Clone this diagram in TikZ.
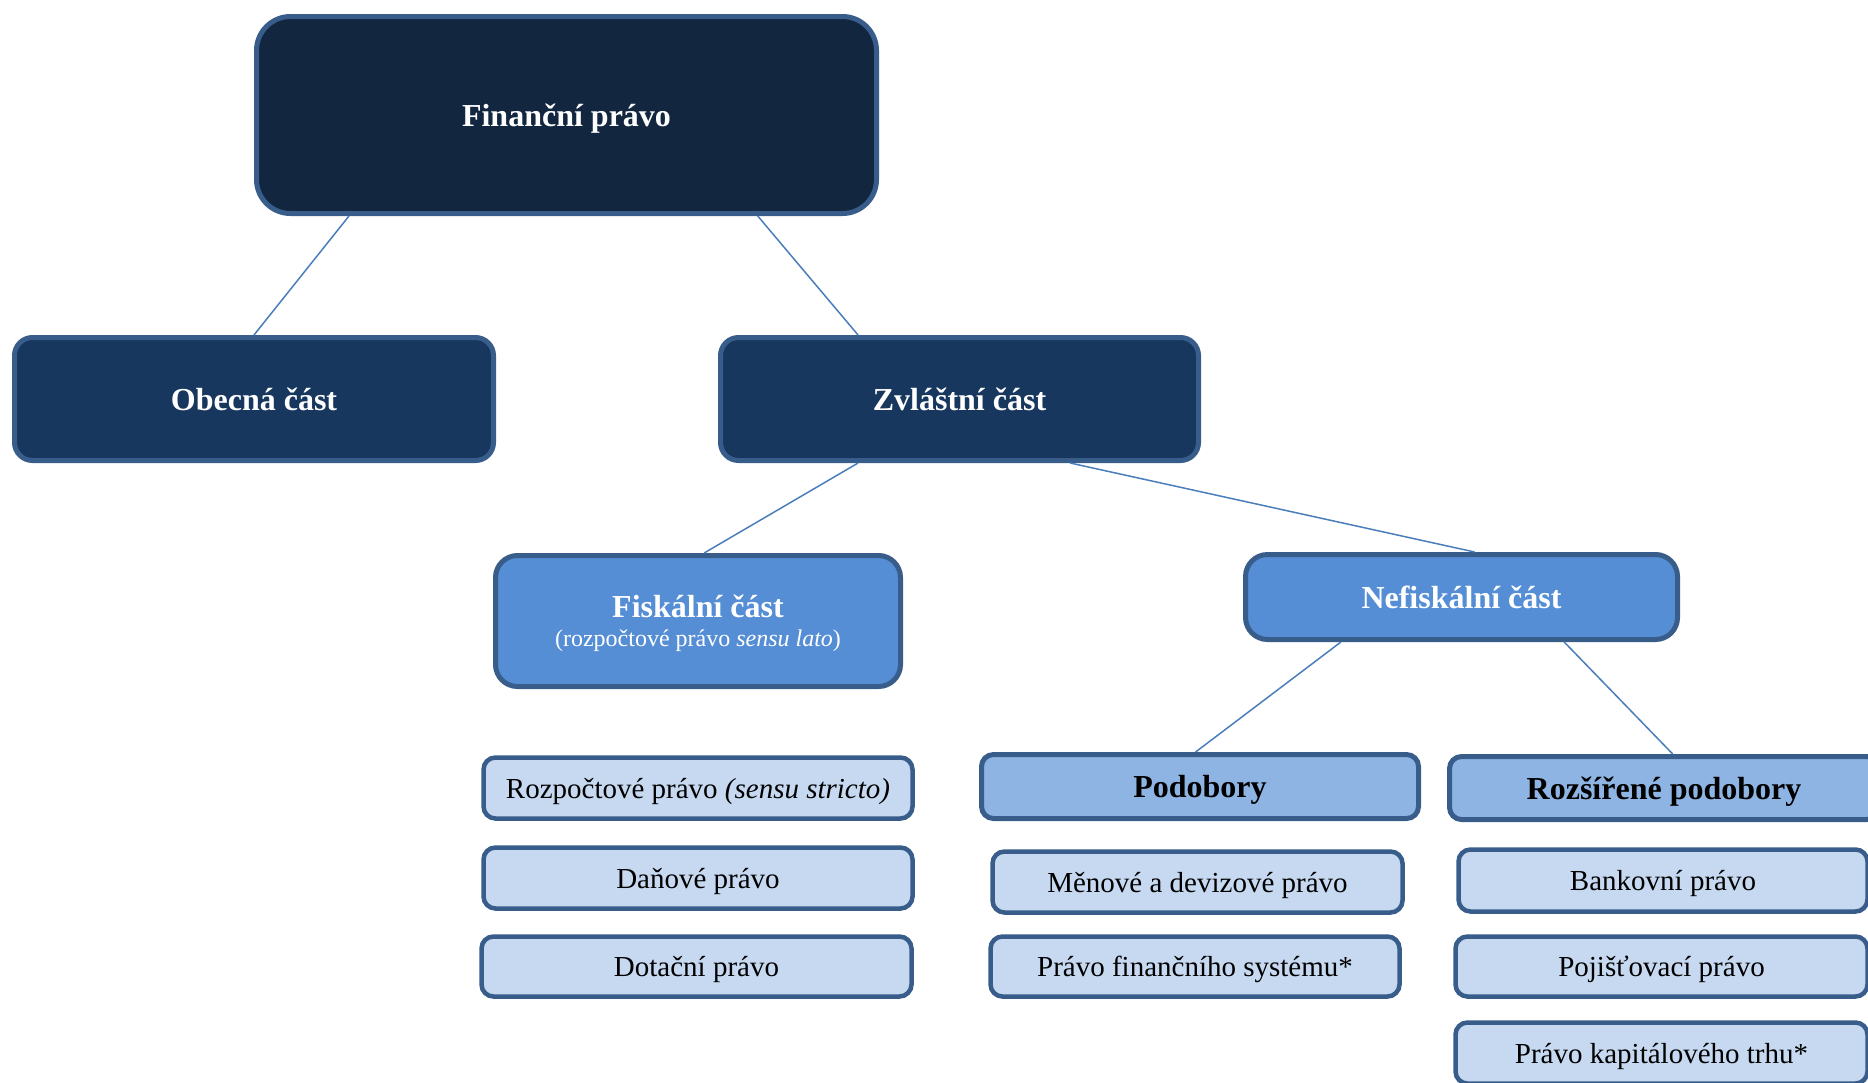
\documentclass[tikz,border=0pt]{standalone}
\usepackage{fontspec}
\setmainfont{Liberation Serif}
\usetikzlibrary{calc}
\definecolor{boxline}{HTML}{385D8A}
\definecolor{linkline}{HTML}{4A7EBB}
\definecolor{rootfill}{HTML}{12263F}
\definecolor{partfill}{HTML}{17375E}
\definecolor{branchfill}{HTML}{558ED5}
\definecolor{subfill}{HTML}{8EB4E3}
\definecolor{leaffill}{HTML}{C6D9F1}
\tikzset{
  box/.style={draw=boxline, line width=5pt, inner sep=0pt, align=center, text depth=0pt},
  rootbox/.style={box, fill=rootfill, rounded corners=34pt, text=white,
    font=\fontsize{32}{38}\selectfont\bfseries},
  partbox/.style={box, fill=partfill, rounded corners=18pt, text=white,
    font=\fontsize{32}{38}\selectfont\bfseries},
  branchbox/.style={box, fill=branchfill, rounded corners=22pt, text=white,
    font=\fontsize{32}{38}\selectfont\bfseries},
  subbox/.style={box, fill=subfill, rounded corners=12pt,
    font=\fontsize{32}{38}\selectfont\bfseries},
  leafbox/.style={box, line width=4.5pt, fill=leaffill, rounded corners=12pt,
    font=\fontsize{29}{34}\selectfont},
  link/.style={draw=linkline, line width=1.5pt}
}
\begin{document}
\begin{tikzpicture}[x=1pt, y=-1pt]
  \clip (0,0) rectangle (1868,1082);
  % main tree
  \node[rootbox, minimum width=620, minimum height=197] (fin) at (566.5,115) {Finanční právo};
  \node[partbox, minimum width=479, minimum height=123] (obec) at (254,399) {Obecná část};
  \node[partbox, minimum width=478, minimum height=123] (zvl) at (959.5,399) {Zvláštní část};
  \node[branchbox, minimum width=405, minimum height=131] (fisk) at (698,621)
    {Fiskální část\\[-9pt]{\fontsize{24}{28}\selectfont\mdseries (rozpočtové právo \textit{sensu lato})}};
  \node[branchbox, minimum width=432, minimum height=85] (nefisk) at (1461.5,597) {Nefiskální část};
  \node[subbox, minimum width=437, minimum height=64] (podob) at (1200,786.5) {Podobory};
  \node[subbox, minimum width=429, minimum height=63] (rozs) at (1664,788) {Rozšířené podobory};
  % fiskalni cast
  \node[leafbox, minimum width=429, minimum height=61] (rozp) at (698,788)
    {Rozpočtové právo \textit{(sensu stricto)}};
  \node[leafbox, minimum width=429, minimum height=61] (dan) at (698,878) {Daňové právo};
  \node[leafbox, minimum width=430, minimum height=60] (dot) at (696.5,966.5) {Dotační právo};
  % podobory
  \node[leafbox, minimum width=410, minimum height=61] (men) at (1197.5,882) {Měnové a devizové právo};
  \node[leafbox, minimum width=409, minimum height=60] (sys) at (1195,966.5) {Právo finančního systému*};
  % rozsirene podobory
  \node[leafbox, minimum width=409, minimum height=62] (bank) at (1663,880.5) {Bankovní právo};
  \node[leafbox, minimum width=412, minimum height=60] (poj) at (1661.5,966.5) {Pojišťovací právo};
  \node[leafbox, minimum width=412, minimum height=61] (kap) at (1661.5,1053) {Právo kapitálového trhu*};
  % connectors
  \draw[link] ($(fin.south west)!0.152!(fin.south east)$) -- (obec.north);
  \draw[link] ($(fin.south west)!0.806!(fin.south east)$) -- ($(zvl.north west)!0.29!(zvl.north east)$);
  \draw[link] ($(zvl.south west)!0.29!(zvl.south east)$) -- ($(fisk.north west)!0.515!(fisk.north east)$);
  \draw[link] ($(zvl.south west)!0.729!(zvl.south east)$) -- ($(nefisk.north west)!0.53!(nefisk.north east)$);
  \draw[link] ($(nefisk.south west)!0.224!(nefisk.south east)$) -- ($(podob.north west)!0.49!(podob.north east)$);
  \draw[link] ($(nefisk.south west)!0.735!(nefisk.south east)$) -- ($(rozs.north west)!0.52!(rozs.north east)$);
\end{tikzpicture}
\end{document}
